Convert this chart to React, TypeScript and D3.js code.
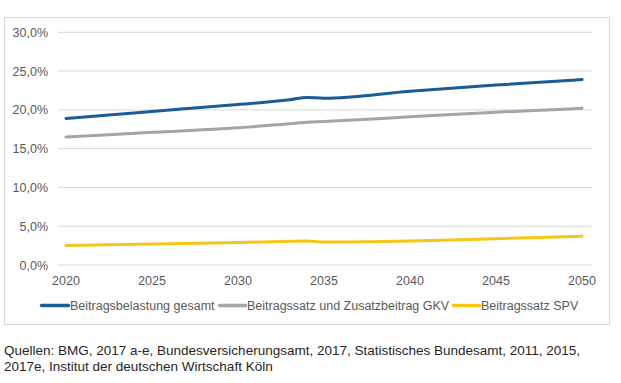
import React from "react";
import * as d3 from "d3";

const years = [2020, 2025, 2030, 2033, 2034, 2035, 2040, 2045, 2050];
const gesamt = [18.9, 19.8, 20.7, 21.3, 21.6, 21.5, 22.4, 23.2, 23.9];
const gkv = [16.5, 17.1, 17.7, 18.2, 18.4, 18.5, 19.1, 19.7, 20.2];
const spv = [2.5, 2.7, 2.9, 3.05, 3.1, 2.95, 3.1, 3.4, 3.7];
const xTicks = [2020, 2025, 2030, 2035, 2040, 2045, 2050];
const yTicks = [0, 5, 10, 15, 20, 25, 30];
const seriesNames = ["Beitragsbelastung gesamt", "Beitragssatz und Zusatzbeitrag GKV", "Beitragssatz SPV"];
const colors = ["#1a5c98", "#a5a5a5", "#f5c518"];
const sourceLines = [
  "Quellen: BMG, 2017 a-e, Bundesversicherungsamt, 2017, Statistisches Bundesamt, 2011, 2015,",
  "2017e, Institut der deutschen Wirtschaft Köln",
];

export default function App() {
  const W = 621, H = 383;
  const x = d3.scaleLinear().domain([2020, 2050]).range([66, 582]);
  const y = d3.scaleLinear().domain([0, 30]).range([265, 32.3]);
  const fmt = (v: number) => v.toFixed(1).replace(".", ",") + "%";
  const data = [gesamt, gkv, spv];
  const line = d3.line<number>().x((_, i) => x(years[i])).y((d) => y(d)).curve(d3.curveMonotoneX);
  const font = "Liberation Sans, Arial, sans-serif";
  const legendItems = [
    { lx: 40, tx: 70 },
    { lx: 218, tx: 247 },
    { lx: 452, tx: 481 },
  ];
  return (
    <svg width={W} height={H} style={{ position: "absolute", left: 0, top: 0, background: "#fff" }} fontFamily={font}>
      <rect x={4.5} y={17.5} width={605} height={307} fill="#fff" stroke="#d9d9d9" />
      {yTicks.map((t) => (
        <g key={t}>
          <line x1={58} x2={592} y1={y(t)} y2={y(t)} stroke="#d9d9d9" strokeWidth={1} />
          <text x={48} y={y(t) + 4.5} textAnchor="end" fontSize={12.5} fill="#595959">{fmt(t)}</text>
        </g>
      ))}
      {xTicks.map((t) => (
        <text key={t} x={x(t)} y={285} textAnchor="middle" fontSize={12.5} fill="#595959">{t}</text>
      ))}
      {data.map((d, i) => (
        <path key={i} d={line(d) || ""} fill="none" stroke={colors[i]} strokeWidth={3} strokeLinecap="round" />
      ))}
      {legendItems.map((it, i) => (
        <g key={i}>
          <line x1={it.lx + 1.5} x2={it.tx - 1.5} y1={305.5} y2={305.5} stroke={colors[i]} strokeWidth={3.5} strokeLinecap="round" />
          <text x={it.tx} y={310} fontSize={12.5} fill="#595959">{seriesNames[i]}</text>
        </g>
      ))}
      {sourceLines.map((s, i) => (
        <text key={i} x={4} y={355 + i * 16} fontSize={13.5} fill="#262626">{s}</text>
      ))}
    </svg>
  );
}
